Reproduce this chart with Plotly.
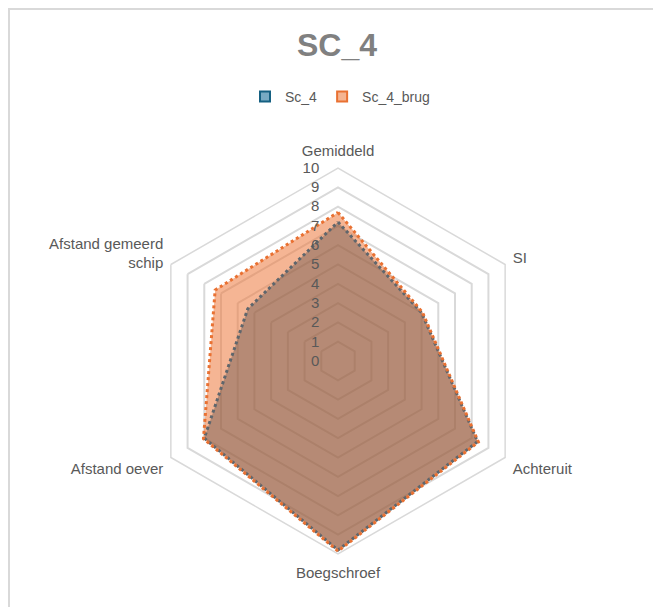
import plotly.graph_objects as go

categories = ["Gemiddeld", "SI", "Achteruit", "Boegschroef", "Afstand oever", "Afstand gemeerd<br>schip"]
sc4 = [7.2, 5.0, 8.35, 9.8, 8.0, 5.4]
sc4_brug = [7.7, 5.05, 8.4, 9.85, 8.05, 7.35]
radial_ticks = list(range(0, 11))

FONT = "Liberation Sans, Arial, sans-serif"
GREY = "#595959"

# page body has an 8px margin; figure fills the rest of the window
W, H = 653, 599

def closed(v):
    return v + v[:1]

fig = go.Figure()
fig.add_trace(go.Scatterpolar(
    r=closed(sc4_brug), theta=closed(categories), mode="lines", fill="toself",
    fillcolor="rgba(236,120,60,0.55)", line=dict(width=0, color="rgba(0,0,0,0)"),
    showlegend=False, hoverinfo="skip"))
fig.add_trace(go.Scatterpolar(
    r=closed(sc4), theta=closed(categories), mode="lines", fill="toself",
    fillcolor="rgba(87,75,71,0.40)", line=dict(width=3, color="rgb(95,102,108)", dash="dot"),
    showlegend=False, name="Sc_4"))
fig.add_trace(go.Scatterpolar(
    r=closed(sc4_brug), theta=closed(categories), mode="lines",
    line=dict(width=3, color="#E97132", dash="dot"),
    showlegend=False, name="Sc_4_brug"))
fig.add_trace(go.Scatterpolar(
    r=[None], theta=[categories[0]], mode="markers", name="Sc_4",
    marker=dict(symbol="square", size=10, color="rgba(120,170,195,1)", line=dict(color="#156082", width=2))))
fig.add_trace(go.Scatterpolar(
    r=[None], theta=[categories[0]], mode="markers", name="Sc_4_brug",
    marker=dict(symbol="square", size=10, color="rgba(245,180,145,1)", line=dict(color="#E97132", width=2))))

cx, cy, R = 330, 353, 193
fig.update_layout(
    width=W, height=H,
    margin=dict(l=0, r=0, t=0, b=0),
    paper_bgcolor="white",
    font=dict(family=FONT, color=GREY, size=15),
    title=dict(text="<b>SC_4</b>", x=329 / W, xanchor="center", y=1 - 37 / H, yanchor="middle",
               yref="container", font=dict(size=32, color="#808080", family=FONT)),
    legend=dict(orientation="h", x=332 / W, xanchor="center", y=1 - 89 / H, yanchor="middle",
                font=dict(size=14, color=GREY), itemwidth=30, bgcolor="rgba(0,0,0,0)"),
    polar=dict(
        domain=dict(x=[(cx - R) / W, (cx + R) / W], y=[(H - cy - R) / H, (H - cy + R) / H]),
        bgcolor="rgba(0,0,0,0)",
        gridshape="linear",
        radialaxis=dict(range=[0, 10], tickvals=radial_ticks, angle=90, tickangle=90,
                        side="counterclockwise", showline=False, gridcolor="#D9D9D9", gridwidth=1.5,
                        ticks="outside", ticklen=13, tickcolor="rgba(0,0,0,0)",
                        tickfont=dict(size=15, color=GREY), layer="above traces"),
        angularaxis=dict(direction="clockwise", rotation=90, showgrid=False, showline=True,
                         linecolor="#D9D9D9", linewidth=1.5, ticks="outside", ticklen=5,
                         tickcolor="rgba(0,0,0,0)",
                         tickfont=dict(size=15, color=GREY)),
    ),
    shapes=[
        dict(type="line", xref="paper", yref="paper", x0=0, x1=1, y0=1 - 1 / H, y1=1 - 1 / H,
             line=dict(color="#D9D9D9", width=2)),
        dict(type="line", xref="paper", yref="paper", x0=1 / W, x1=1 / W, y0=0, y1=1,
             line=dict(color="#D9D9D9", width=2)),
    ],
)

fig.write_html("out.html")
